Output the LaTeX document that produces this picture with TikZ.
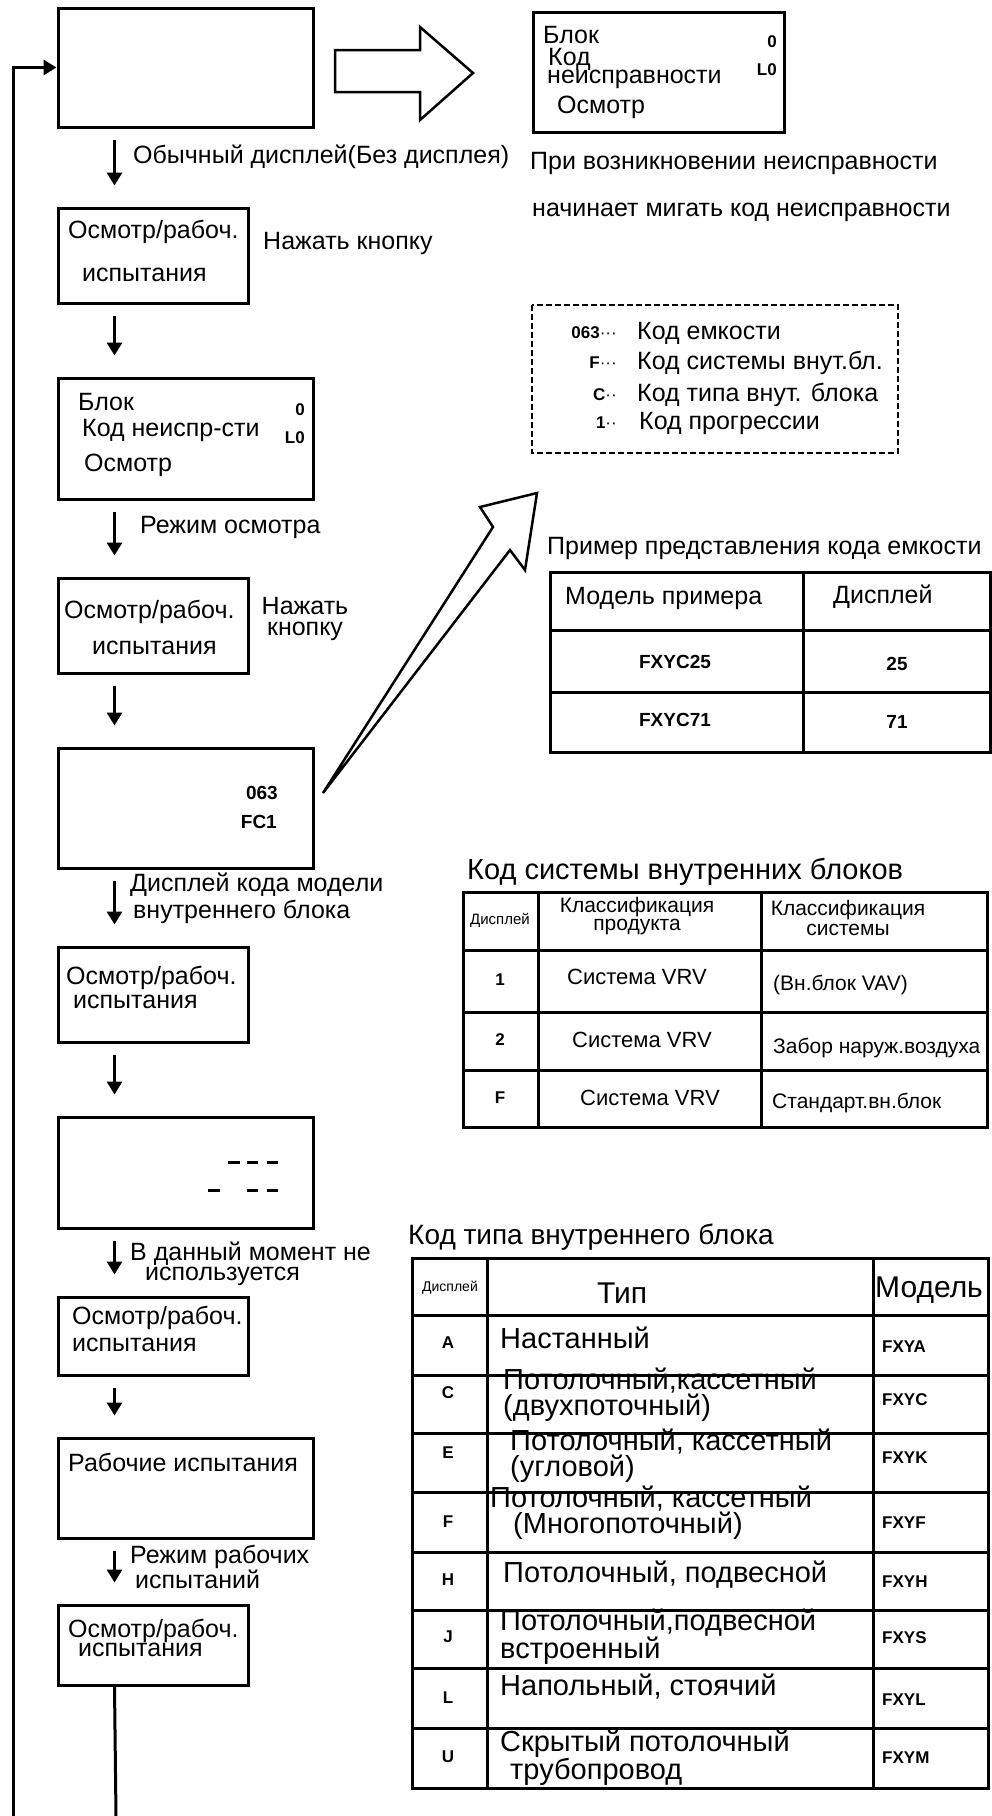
\documentclass[tikz,border=0pt]{standalone}
\usepackage{fontspec}
\setmainfont{Liberation Sans}
\usepackage{tikz}
\usetikzlibrary{arrows.meta}

\begin{document}
\begin{tikzpicture}[x=1pt, y=-1pt,
  box/.style={draw, line width=3pt, inner sep=0pt},
  txt/.style={inner sep=0pt, anchor = west, align=left, font=\fontsize{25}{21}\selectfont},
  code/.style={inner sep=0pt, font=\fontsize{17}{17}\selectfont\bfseries},
  flow/.style={line width=3pt, -{Triangle[length=13pt,width=15pt]}},
  tab/.style={line width=3pt},
  hollow/.style={line width=2.5pt, line join=miter}]

\useasboundingbox (0,0) rectangle (992,1816);

% flow chart on the left
\node[box, minimum width=255, minimum height=119] (b1) at (185.5,67.5) {};
\node[box, minimum width=190, minimum height=95] (b2) at (153,255.5) {};
\node[box, minimum width=255, minimum height=121] (b3) at (185.5,438.5) {};
\node[box, minimum width=190, minimum height=95] (b4) at (153,625.5) {};
\node[box, minimum width=255, minimum height=120] (b5) at (185.5,808) {};
\node[box, minimum width=190, minimum height=95] (b6) at (153,994.5) {};
\node[box, minimum width=255, minimum height=111] (b7) at (185.5,1172.5) {};
\node[box, minimum width=190, minimum height=78] (b8) at (153,1336) {};
\node[box, minimum width=255, minimum height=100] (b9) at (185.5,1488) {};
\node[box, minimum width=190, minimum height=80] (b10) at (153,1645) {};

\foreach \a/\b in {b1/b2, b2/b3, b3/b4, b4/b5, b5/b6, b6/b7, b7/b8, b8/b9, b9/b10}
  \draw[flow] ([xshift=58pt, yshift=-11pt]\a.south west) -- ([xshift=58pt, yshift=21pt]\b.north west);

\coordinate (loopin) at (13,1816);
\coordinate (loopout) at (116,1816);
\draw[flow] (loopin) |- (b1.west);
\draw[line width=3pt] ([xshift=58pt]b10.south west) -- (loopout);

\node[txt] (l1) at (133,157) {Обычный дисплей(Без дисплея)};
\node[txt] (b2a) at (68,232) {Осмотр/рабоч.};
\node[txt] (b2b) at (82,275) {испытания};
\node[txt] (l2) at (263,243) {Нажать кнопку};

\node[txt] (b3a) at (78,402) {Блок};
\node[txt] (b3b) at (82,430) {Код неиспр-сти};
\node[txt] (b3c) at (84,465) {Осмотр};
\node[code, anchor = east] (b3d) at (305,410) {0};
\node[code, anchor = east] (b3e) at (305,438) {L0};
\node[txt] (l3) at (140,527) {Режим осмотра};

\node[txt] (b4a) at (64,612) {Осмотр/рабоч.};
\node[txt] (b4b) at (92,648) {испытания};
\node[txt, anchor = center, align=center] (l4) at (305,619) {Нажать\\кнопку};

\node[code, anchor = east, font=\fontsize{19}{19}\selectfont\bfseries] (b5a) at (278,793) {063};
\node[code, anchor = east, font=\fontsize{19}{19}\selectfont\bfseries] (b5b) at (277,822) {FC1};
\node[txt, font=\fontsize{25}{27}\selectfont] (l5) at (130,898) {Дисплей кода модели\\\hspace*{3pt}внутреннего блока};

\node[txt] (b6a) at (66,978) {Осмотр/рабоч.};
\node[txt] (b6b) at (73,1002) {испытания};

\draw[line width=3pt] (228,1162) -- (240,1162) (247,1162) -- (258,1162) (267,1162) -- (278,1162);
\draw[line width=3pt] (208,1190) -- (220,1190) (247,1190) -- (258,1190) (267,1190) -- (278,1190);
\node[txt, font=\fontsize{25}{20}\selectfont] (l7) at (130,1264) {В данный момент не\\\hspace*{15pt}используется};

\node[txt] (b8a) at (72,1318) {Осмотр/рабоч.};
\node[txt] (b8b) at (72,1345) {испытания};

\node[txt] (b9a) at (68,1462) {Рабочие испытания};
\node[txt] (l9) at (130,1567) {Режим рабочих\\\hspace*{5pt}испытаний};

\node[txt, font=\fontsize{25}{19}\selectfont] (b10a) at (68,1638) {Осмотр/рабоч.\\\hspace*{10pt}испытания};

% fault display on the right
\draw[hollow] (335,50) -- (420,50) -- (420,27) -- (473,73) -- (420,120) -- (420,92) -- (335,92) -- cycle;
\node[box, minimum width=251, minimum height=120] (rb) at (658.5,72) {};
\node[txt] (rba) at (543,35) {Блок};
\node[txt, font=\fontsize{25}{20}\selectfont] (rbb) at (548,68) {Код\\[-2pt]\hspace*{-1pt}неисправности};
\node[txt] (rbc) at (557,107) {Осмотр};
\node[code, anchor = east] (rbd) at (777,42) {0};
\node[code, anchor = east] (rbe) at (777,70) {L0};
\node[txt] (n1) at (530,163) {При возникновении неисправности};
\node[txt] (n2) at (532,212) {начинает мигать код неисправности};

\draw[line width=2.5pt, dash pattern=on 6pt off 3pt] (532,305) rectangle (898,453);
\node[code, anchor = east] (c1) at (617,333) {063\textmd{···}};
\node[code, anchor = east] (c2) at (617,363) {F\textmd{···}};
\node[code, anchor = east] (c3) at (617,395) {C\textmd{··}};
\node[code, anchor = east] (c4) at (617,423) {1\textmd{··}};
\node[txt] (d1) at (637,333) {Код емкости};
\node[txt] (d2) at (637,363) {Код системы внут.бл.};
\node[txt] (d3) at (637,395) {Код типа внут. блока};
\node[txt] (d4) at (639,423) {Код прогрессии};

\draw[hollow] (323,793) -- (493,527) -- (480,507) -- (537,493) -- (525,570) -- (510,550) -- cycle;

% capacity code table
\node[txt] (capT) at (547,548) {Пример представления кода емкости};
\draw[tab] (550,572) rectangle (990,752);
\draw[tab] (803,572) -- (803,752) (550,630) -- (990,630) (550,692) -- (990,692);
\node[txt] (capH1) at (565,598) {Модель примера};
\node[txt] (capH2) at (833,597) {Дисплей};
\node[code, font=\fontsize{19}{19}\selectfont\bfseries] (capA1) at (675,662) {FXYC25};
\node[code, font=\fontsize{19}{19}\selectfont\bfseries] (capA2) at (897,664) {25};
\node[code, font=\fontsize{19}{19}\selectfont\bfseries] (capB1) at (675,720) {FXYC71};
\node[code, font=\fontsize{19}{19}\selectfont\bfseries] (capB2) at (897,722) {71};

% indoor unit system table
\node[txt, font=\fontsize{29}{29}\selectfont] (sysT) at (467,872) {Код системы внутренних блоков};
\draw[tab] (463,892) rectangle (987,1127);
\draw[tab] (538,892) -- (538,1127) (761,892) -- (761,1127);
\draw[tab] (463,950) -- (987,950) (463,1012) -- (987,1012) (463,1070) -- (987,1070);
\node[code, font=\fontsize{15}{15}\selectfont] (sysH1) at (500,920) {Дисплей};
\node[txt, anchor = center, align=center, font=\fontsize{21}{18}\selectfont] (sysH2) at (637,916) {Классификация\\продукта};
\node[txt, anchor = center, align=center, font=\fontsize{21}{20}\selectfont] (sysH3) at (848,918) {Классификация\\системы};
\node[code] (sys1a) at (500,980) {1};
\node[code] (sys2a) at (500,1040) {2};
\node[code] (sys3a) at (500,1098) {F};
\node[txt, anchor = center, font=\fontsize{22}{22}\selectfont] (sys1b) at (637,977) {Система VRV};
\node[txt, anchor = center, font=\fontsize{22}{22}\selectfont] (sys2b) at (642,1040) {Система VRV};
\node[txt, anchor = center, font=\fontsize{22}{22}\selectfont] (sys3b) at (650,1098) {Система VRV};
\node[txt, font=\fontsize{21}{21}\selectfont] (sys1c) at (773,985) {(Вн.блок VAV)};
\node[txt, font=\fontsize{21}{21}\selectfont] (sys2c) at (773,1048) {Забор наруж.воздуха};
\node[txt, font=\fontsize{21}{21}\selectfont] (sys3c) at (772,1103) {Стандарт.вн.блок};

% indoor unit type table
\node[txt, font=\fontsize{28}{28}\selectfont] (typT) at (408,1237) {Код типа внутреннего блока};
\draw[tab] (412,1258) rectangle (988,1788);
\draw[tab] (487,1258) -- (487,1788) (873,1258) -- (873,1788);
\foreach \y in {1315,1375,1433,1492,1552,1610,1668,1728}
  \draw[tab] (412,\y) -- (988,\y);
\node[code, font=\fontsize{14}{14}\selectfont] (typH1) at (450,1288) {Дисплей};
\node[txt, anchor = center, font=\fontsize{30}{30}\selectfont] (typH2) at (622,1293) {Тип};
\node[txt, font=\fontsize{30}{30}\selectfont] (typH3) at (875,1290) {Модель};

\node[code] (typAa) at (448,1343) {A};
\node[code] (typCa) at (448,1393) {C};
\node[code] (typEa) at (448,1453) {E};
\node[code] (typFa) at (448,1522) {F};
\node[code] (typHa) at (448,1580) {H};
\node[code] (typJa) at (448,1637) {J};
\node[code] (typLa) at (448,1698) {L};
\node[code] (typUa) at (448,1757) {U};

\node[txt, font=\fontsize{29}{19}\selectfont] (typAb) at (500,1338) {Настанный};
\node[txt, font=\fontsize{29}{19}\selectfont] (typCb) at (503,1395) {Потолочный,кассетный\\(двухпоточный)};
\node[txt, font=\fontsize{29}{19}\selectfont] (typEb) at (510,1456) {Потолочный, кассетный\\(угловой)};
\node[txt, font=\fontsize{29}{17}\selectfont] (typFb) at (490,1513) {Потолочный, кассетный\\\hspace*{23pt}(Многопоточный)};
\node[txt, font=\fontsize{29}{19}\selectfont] (typHb) at (503,1575) {Потолочный, подвесной};
\node[txt, font=\fontsize{29}{19}\selectfont] (typJb) at (500,1637) {Потолочный,подвесной\\встроенный};
\node[txt, font=\fontsize{29}{19}\selectfont] (typLb) at (500,1687) {Напольный, стоячий};
\node[txt, font=\fontsize{29}{20}\selectfont] (typUb) at (500,1758) {Скрытый потолочный\\\hspace*{10pt}трубопровод};

\node[code, anchor = west] (typAc) at (882,1347) {FXYA};
\node[code, anchor = west] (typCc) at (882,1400) {FXYC};
\node[code, anchor = west] (typEc) at (882,1458) {FXYK};
\node[code, anchor = west] (typFc) at (882,1523) {FXYF};
\node[code, anchor = west] (typHc) at (882,1582) {FXYH};
\node[code, anchor = west] (typJc) at (882,1638) {FXYS};
\node[code, anchor = west] (typLc) at (882,1700) {FXYL};
\node[code, anchor = west] (typUc) at (882,1758) {FXYM};

\end{tikzpicture}
\end{document}
